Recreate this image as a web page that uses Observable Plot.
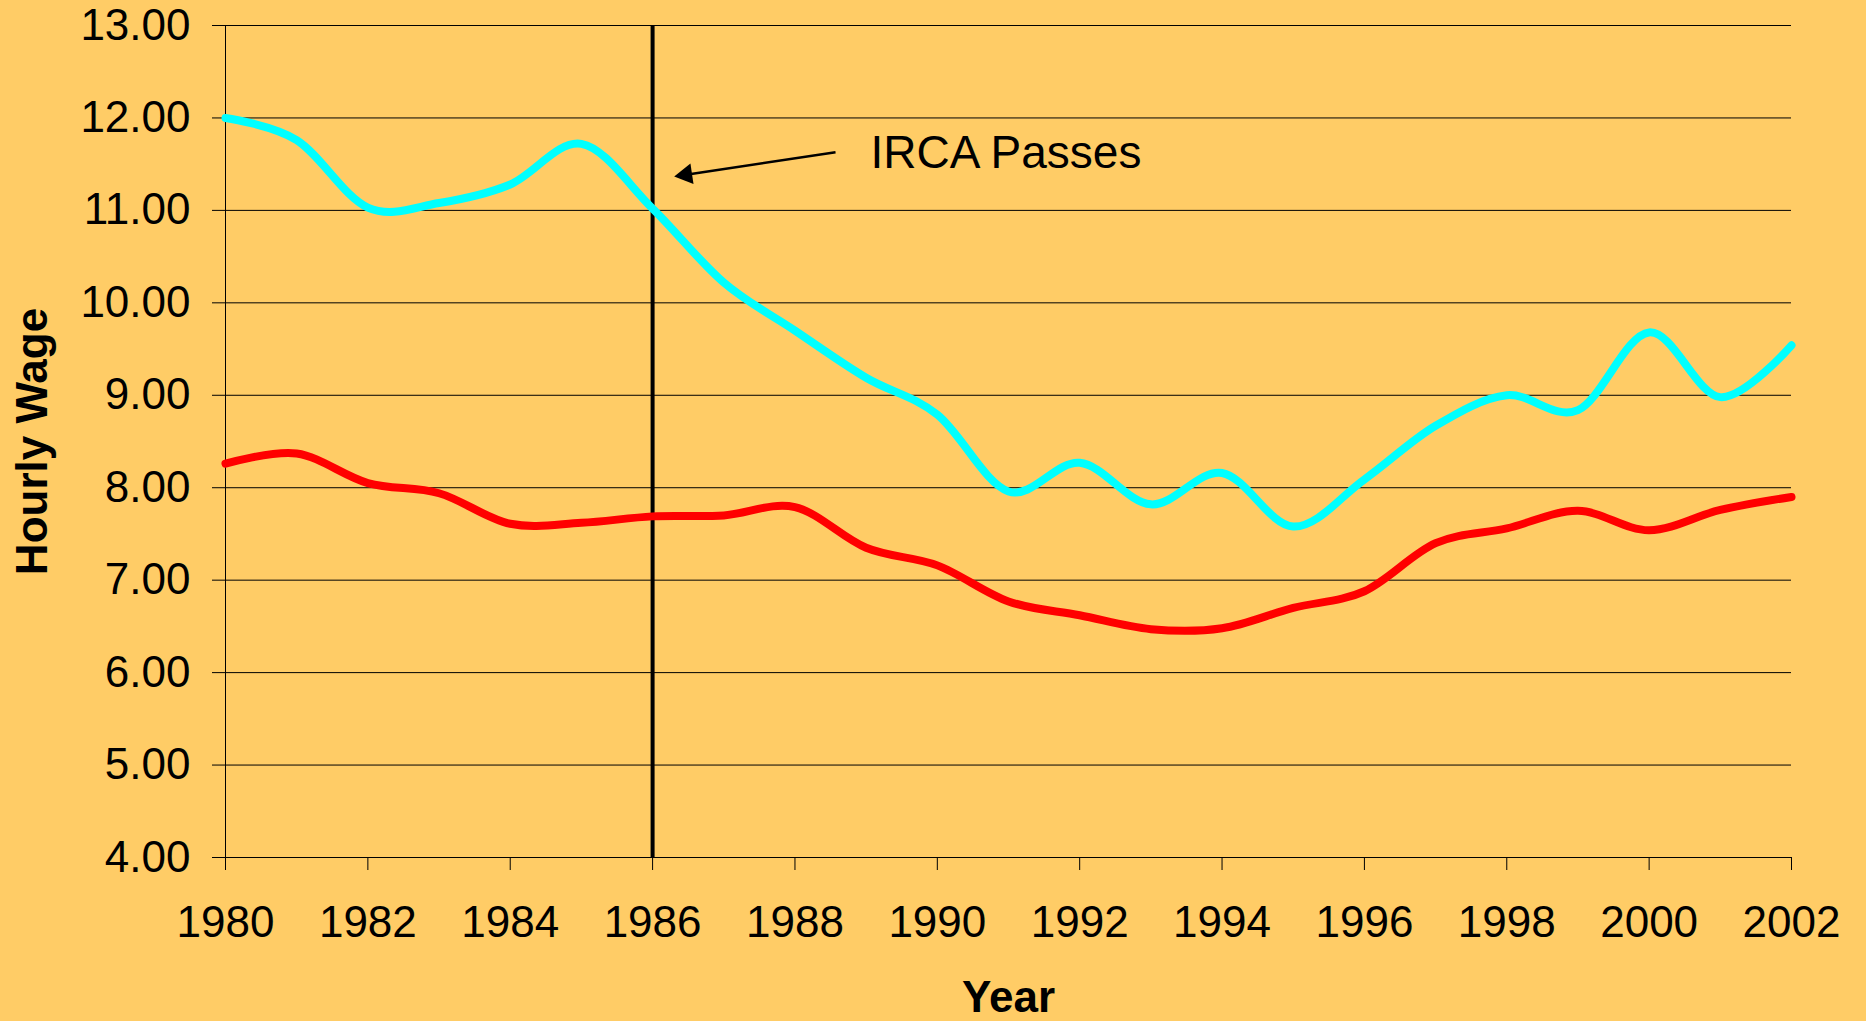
<!DOCTYPE html>
<html>
<head>
<meta charset="utf-8">
<script src="https://cdn.jsdelivr.net/npm/d3@7"></script>
<script src="https://cdn.jsdelivr.net/npm/@observablehq/plot@0.6"></script>
<style>
  html, body { margin: 0; padding: 0; background: #FFCC66; }
  #chart svg { display: block; }
</style>
</head>
<body>
<div id="chart"></div>
<script>
const years = [1980,1981,1982,1983,1984,1985,1986,1987,1988,1989,1990,1991,1992,1993,1994,1995,1996,1997,1998,1999,2000,2001,2002];
const cyanWage = [12.00,11.76,11.03,11.08,11.28,11.72,11.02,10.22,9.70,9.19,8.79,7.96,8.27,7.82,8.16,7.58,8.09,8.67,9.00,8.84,9.68,8.98,9.54];
const redWage  = [8.26,8.37,8.05,7.94,7.61,7.62,7.69,7.70,7.79,7.35,7.16,6.77,6.62,6.47,6.48,6.70,6.88,7.40,7.56,7.75,7.54,7.76,7.90];
const yTicks = [4,5,6,7,8,9,10,11,12,13];
const xTicks = [1980,1982,1984,1986,1988,1990,1992,1994,1996,1998,2000,2002];
const eventYear = [1986];
const eventLabel = ["IRCA Passes"];
const arrowTail = {x: 1988.57, y: 11.63};
const arrowHead = {x: 1986.47, y: 11.386};
const labelPos = {x: 1989.06, y: 11.62};

const cyanData = years.map((y, i) => ({year: y, wage: cyanWage[i]}));
const redData = years.map((y, i) => ({year: y, wage: redWage[i]}));

const font = "'Liberation Sans', Arial, sans-serif";

const chart = Plot.plot({
  width: 1866,
  height: 1021,
  marginLeft: 225,
  marginRight: 75,
  marginTop: 25,
  marginBottom: 164,
  style: {background: "#FFCC66", fontFamily: font, color: "#000"},
  x: {domain: [1980, 2002]},
  y: {domain: [4, 13]},
  marks: [
    Plot.ruleY(yTicks, {stroke: "#000", strokeWidth: 1}),
    Plot.ruleX([1980], {stroke: "#000", strokeWidth: 1}),
    Plot.axisY({ticks: yTicks, tickFormat: d => d.toFixed(2), tickSize: 13, tickPadding: 22, fontSize: 44, label: null}),
    Plot.axisX({ticks: xTicks, tickFormat: d => String(d), tickSize: 13, tickPadding: 35, fontSize: 44, label: null}),
    Plot.ruleX(eventYear, {y1: 4, y2: 13, stroke: "#000", strokeWidth: 4}),
    Plot.line(cyanData, {x: "year", y: "wage", stroke: "#00FFFF", strokeWidth: 8, curve: "cardinal"}),
    Plot.line(redData, {x: "year", y: "wage", stroke: "#FF0000", strokeWidth: 8, curve: "cardinal"}),
    Plot.link([0], {x1: arrowTail.x, y1: arrowTail.y, x2: arrowHead.x, y2: arrowHead.y, stroke: "#000", strokeWidth: 2.5}),
    Plot.dot([0], {x: arrowHead.x, y: arrowHead.y, symbol: "triangle", r: 7.7, fill: "#000", stroke: "none", rotate: -98.5}),
    Plot.text(eventLabel, {x: labelPos.x, y: labelPos.y, text: d => d, textAnchor: "start", lineAnchor: "middle", fontSize: 46, fill: "#000"}),
    Plot.text(["Hourly Wage"], {frameAnchor: "left", dx: -193, rotate: -90, text: d => d, textAnchor: "middle", fontSize: 44, fontWeight: "bold", lineAnchor: "middle", fill: "#000"}),
    Plot.text(["Year"], {frameAnchor: "bottom", dy: 140, text: d => d, textAnchor: "middle", fontSize: 44, fontWeight: "bold", lineAnchor: "middle", fill: "#000"})
  ]
});
document.getElementById("chart").appendChild(chart);
</script>
</body>
</html>
